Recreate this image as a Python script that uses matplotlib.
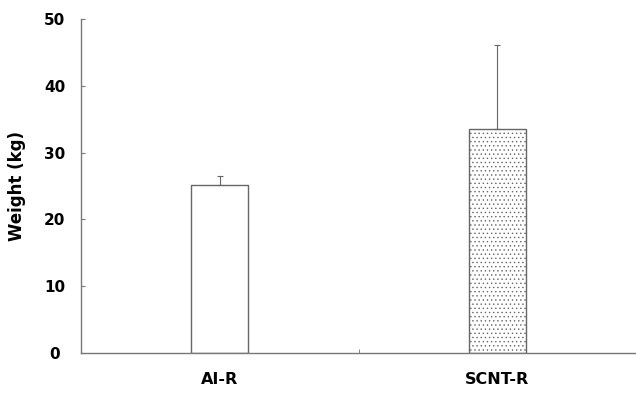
import matplotlib
matplotlib.use("Agg")
import matplotlib.pyplot as plt
import numpy as np

# data
groups = ["AI-R", "SCNT-R"]
weight = [25.2, 33.5]
err_up = [1.3, 12.6]

plt.rcParams['font.family'] = ['DejaVu Sans']
plt.rcParams['hatch.color'] = '#9a9a9a'
plt.rcParams['hatch.linewidth'] = 0.5

fig = plt.figure(figsize=(6.36, 3.93), dpi=100)
ax = fig.add_axes([0.1274, 0.1018, 0.8726, 0.8499])

pos = np.array([0.5, 1.5])
ax.bar(pos[0], weight[0], width=0.206, color='white', edgecolor='#666666', linewidth=1.0)
ax.bar(pos[1], weight[1], width=0.206, color='white', edgecolor='#666666',
       linewidth=1.0, hatch='....')
ax.errorbar(pos, weight, yerr=[[0, 0], err_up], fmt='none', ecolor='#666666',
            elinewidth=0.8, capsize=2, capthick=0.8)

ax.set_xlim(0, 2)
ax.set_ylim(0, 50)
ax.set_yticks([0, 10, 20, 30, 40, 50])
ax.set_xticks(pos)
ax.set_xticklabels(groups, fontsize=11.5, fontweight='heavy')
ax.set_xticks([1.0], minor=True)
ax.tick_params(axis='x', which='major', length=0, pad=14)
ax.tick_params(axis='x', which='minor', length=3, direction='in', color='#777777')
ax.tick_params(axis='y', direction='in', length=3, color='#777777', labelsize=11, pad=19)
for lab in ax.get_yticklabels():
    lab.set_fontweight('heavy')
    lab.set_horizontalalignment('center')

ax.set_ylabel('Weight (kg)', fontsize=12, fontweight='heavy')
ax.yaxis.set_label_coords(-0.1, 0.5)

for s in ['top', 'right']:
    ax.spines[s].set_visible(False)
for s in ['left', 'bottom']:
    ax.spines[s].set_color('#777777')
    ax.spines[s].set_linewidth(1.0)

fig.savefig('out.png', dpi=100)
